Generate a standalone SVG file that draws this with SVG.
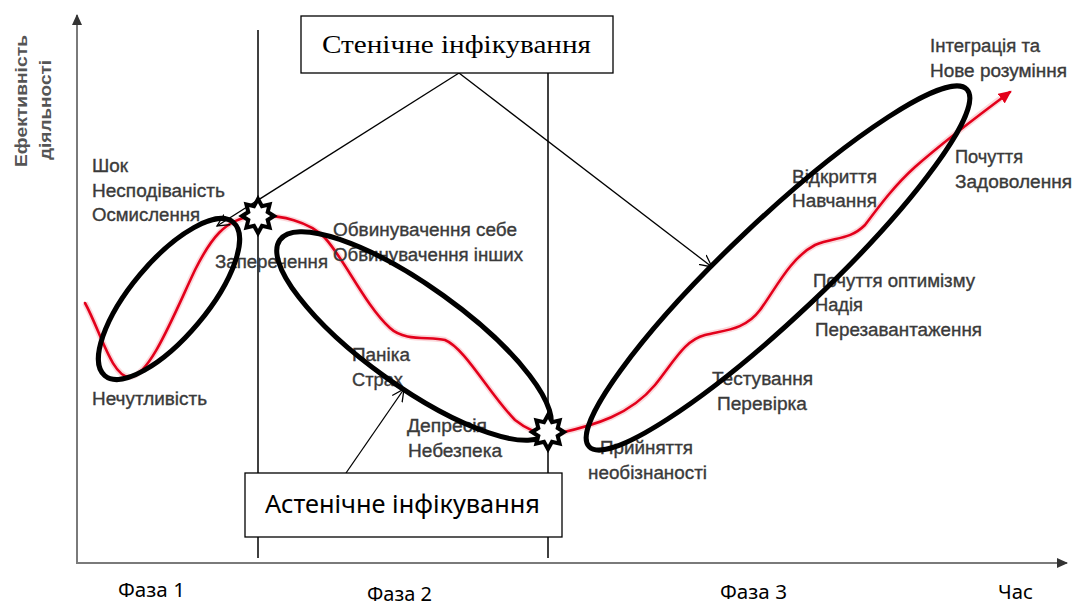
<svg xmlns="http://www.w3.org/2000/svg" width="1075" height="607" viewBox="0 0 1075 607">
  <style>
    .axis { stroke: #7a7a7a; stroke-width: 2; fill: none; }
    .phase { stroke: #000; stroke-width: 1.5; fill: none; }
    .curve { stroke: #e3001b; stroke-width: 2.6; fill: none; stroke-linecap: round; }
    .halo { stroke: #f7a8b0; stroke-width: 6; fill: none; opacity: 0.45; }
    .oval { stroke: #000; stroke-width: 5; fill: none; }
    .link { stroke: #000; stroke-width: 1.3; fill: none; }
    .star { stroke: #000; stroke-width: 4; fill: #fff; stroke-linejoin: miter; }
    .box { stroke: #000; stroke-width: 1.3; fill: #fff; }
    .lbl { font-family: "Liberation Sans", Arial, sans-serif; font-size: 18px; fill: #3a3a3a; stroke: #3a3a3a; stroke-width: 0.35; }
    .ylbl { font-family: "Liberation Sans", Arial, sans-serif; font-size: 16px; fill: #555; font-weight: bold; }
    .serif { font-family: "Liberation Serif", "Times New Roman", serif; font-size: 25px; fill: #000; }
    .sans { font-family: "Noto Sans", "Open Sans", sans-serif; fill: #000; }
  </style>
  <defs>
    <marker id="open" markerUnits="userSpaceOnUse" markerWidth="16" markerHeight="16" refX="12" refY="6" orient="auto" viewBox="0 0 16 12">
      <path d="M0,0 L12,6 L0,12" fill="none" stroke="#000" stroke-width="1.3"/>
    </marker>
    <marker id="axhead" markerUnits="userSpaceOnUse" markerWidth="12" markerHeight="10" refX="10" refY="5" orient="auto" viewBox="0 0 12 10">
      <path d="M0,0 L11,5 L0,10 Z" fill="#333"/>
    </marker>
    <marker id="redhead" markerUnits="userSpaceOnUse" markerWidth="14" markerHeight="12" refX="11" refY="6" orient="auto" viewBox="0 0 14 12">
      <path d="M0,0 L13,6 L0,12 Z" fill="#e3001b"/>
    </marker>
    <polygon id="star8" class="star" points="0,-17 4,-9.7 11.6,-11.6 9.7,-4 16,0 9.7,4 11.6,11.6 4,9.7 0,17 -4,9.7 -11.6,11.6 -9.7,4 -16,0 -9.7,-4 -11.6,-11.6 -4,-9.7"/>
  </defs>

  <rect width="1075" height="607" fill="#fff"/>

  <!-- axes -->
  <g id="axes">
    <line class="axis" x1="77" y1="564" x2="77" y2="15" marker-end="url(#axhead)"/>
    <line class="axis" x1="76" y1="563" x2="1067" y2="563" marker-end="url(#axhead)"/>
    <text class="ylbl" transform="translate(27,167) rotate(-90)" textLength="132" lengthAdjust="spacingAndGlyphs">Ефективність</text>
    <text class="ylbl" transform="translate(51,160) rotate(-90)" textLength="100" lengthAdjust="spacingAndGlyphs">діяльності</text>
  </g>

  <!-- phase boundaries -->
  <g id="phase-lines">
    <line class="phase" x1="258" y1="30" x2="258" y2="558"/>
    <line class="phase" x1="548" y1="73" x2="548" y2="558"/>
  </g>

  <!-- change curve -->
  <g id="curve">
    <path class="halo" d="M85,303 C100,330 112,378 130,377 C150,376 175,312 195,270 C210,240 225,218 255,216 C280,214 310,222 325,238 C345,260 365,305 390,328 C405,342 430,336 445,340 C465,348 490,395 515,420 C530,432 545,437 560,433 C595,425 630,415 655,385 C675,360 685,340 705,335 C725,330 745,330 760,310 C775,290 790,258 815,245 C835,237 850,240 865,225 C880,205 895,185 915,167 C940,145 975,118 1004,96"/>
    <path class="curve" d="M85,303 C100,330 112,378 130,377 C150,376 175,312 195,270 C210,240 225,218 255,216 C280,214 310,222 325,238 C345,260 365,305 390,328 C405,342 430,336 445,340 C465,348 490,395 515,420 C530,432 545,437 560,433 C595,425 630,415 655,385 C675,360 685,340 705,335 C725,330 745,330 760,310 C775,290 790,258 815,245 C835,237 850,240 865,225 C880,205 895,185 915,167 C940,145 975,118 1010,92" marker-end="url(#redhead)"/>
  </g>

  <!-- stage labels -->
  <g id="stage-labels">
    <text class="lbl" x="92" y="172" textLength="36" lengthAdjust="spacingAndGlyphs">Шок</text>
    <text class="lbl" x="92" y="197" textLength="133" lengthAdjust="spacingAndGlyphs">Несподіваність</text>
    <text class="lbl" x="92" y="221" textLength="108" lengthAdjust="spacingAndGlyphs">Осмислення</text>
    <text class="lbl" x="215" y="268" textLength="113" lengthAdjust="spacingAndGlyphs">Заперечення</text>
    <text class="lbl" x="92" y="405" textLength="115" lengthAdjust="spacingAndGlyphs">Нечутливість</text>
    <text class="lbl" x="333" y="236" textLength="184" lengthAdjust="spacingAndGlyphs">Обвинувачення себе</text>
    <text class="lbl" x="333" y="261" textLength="190" lengthAdjust="spacingAndGlyphs">Обвинувачення інших</text>
    <text class="lbl" x="352" y="361" textLength="58" lengthAdjust="spacingAndGlyphs">Паніка</text>
    <text class="lbl" x="352" y="386" textLength="51" lengthAdjust="spacingAndGlyphs">Страх</text>
    <text class="lbl" x="407" y="432" textLength="80" lengthAdjust="spacingAndGlyphs">Депресія</text>
    <text class="lbl" x="408" y="457" textLength="94" lengthAdjust="spacingAndGlyphs">Небезпека</text>
    <text class="lbl" x="600" y="454" textLength="93" lengthAdjust="spacingAndGlyphs">Прийняття</text>
    <text class="lbl" x="588" y="479" textLength="119" lengthAdjust="spacingAndGlyphs">необізнаності</text>
    <text class="lbl" x="712" y="385" textLength="101" lengthAdjust="spacingAndGlyphs">Тестування</text>
    <text class="lbl" x="717" y="410" textLength="90" lengthAdjust="spacingAndGlyphs">Перевірка</text>
    <text class="lbl" x="813" y="287" textLength="162" lengthAdjust="spacingAndGlyphs">Почуття оптимізму</text>
    <text class="lbl" x="815" y="311" textLength="48" lengthAdjust="spacingAndGlyphs">Надія</text>
    <text class="lbl" x="815" y="336" textLength="167" lengthAdjust="spacingAndGlyphs">Перезавантаження</text>
    <text class="lbl" x="792" y="183" textLength="85" lengthAdjust="spacingAndGlyphs">Відкриття</text>
    <text class="lbl" x="792" y="207" textLength="85" lengthAdjust="spacingAndGlyphs">Навчання</text>
    <text class="lbl" x="955" y="163" textLength="68" lengthAdjust="spacingAndGlyphs">Почуття</text>
    <text class="lbl" x="955" y="188" textLength="117" lengthAdjust="spacingAndGlyphs">Задоволення</text>
    <text class="lbl" x="930" y="52" textLength="110" lengthAdjust="spacingAndGlyphs">Інтеграція та</text>
    <text class="lbl" x="930" y="77" textLength="137" lengthAdjust="spacingAndGlyphs">Нове розуміння</text>
  </g>

  <!-- highlighted stretches of the curve -->
  <g id="oval-phase1">
    <ellipse class="oval" cx="0" cy="0" rx="100" ry="38" transform="translate(169,299) rotate(-50)"/>
  </g>
  <g id="oval-phase2">
    <ellipse class="oval" cx="0" cy="0" rx="165" ry="50" transform="translate(414,336) rotate(35.6)"/>
  </g>
  <g id="oval-phase3">
    <ellipse class="oval" cx="0" cy="0" rx="260" ry="48" transform="translate(778,268) rotate(-43.4)"/>
  </g>

  <!-- connectors -->
  <g id="connectors">
    <line class="link" x1="459" y1="73" x2="217" y2="226" marker-end="url(#open)"/>
    <line class="link" x1="459" y1="73" x2="712" y2="267" marker-end="url(#open)"/>
    <line class="link" x1="346" y1="473" x2="404" y2="389" marker-end="url(#open)"/>
  </g>

  <!-- turning points -->
  <g id="turn-1">
    <use href="#star8" x="258" y="216"/>
  </g>
  <g id="turn-2">
    <use href="#star8" x="548" y="432"/>
  </g>

  <!-- infection type boxes -->
  <g id="box-sthenic">
    <rect class="box" x="301" y="16" width="312" height="57"/>
    <text class="serif" x="322" y="53" textLength="269" lengthAdjust="spacingAndGlyphs">Стенічне інфікування</text>
  </g>
  <g id="box-asthenic">
    <rect class="box" x="245" y="473" width="317" height="64"/>
    <text class="sans" x="265" y="513" font-size="26" textLength="275" lengthAdjust="spacingAndGlyphs">Астенічне інфікування</text>
  </g>

  <!-- phase captions -->
  <g id="captions">
    <text class="sans" x="118" y="597" font-size="20" textLength="67" lengthAdjust="spacingAndGlyphs">Фаза 1</text>
    <text class="sans" x="367" y="601" font-size="20" textLength="65" lengthAdjust="spacingAndGlyphs">Фаза 2</text>
    <text class="sans" x="720" y="599" font-size="20" textLength="67" lengthAdjust="spacingAndGlyphs">Фаза 3</text>
    <text class="sans" x="998" y="599" font-size="20" textLength="35" lengthAdjust="spacingAndGlyphs">Час</text>
  </g>
</svg>
